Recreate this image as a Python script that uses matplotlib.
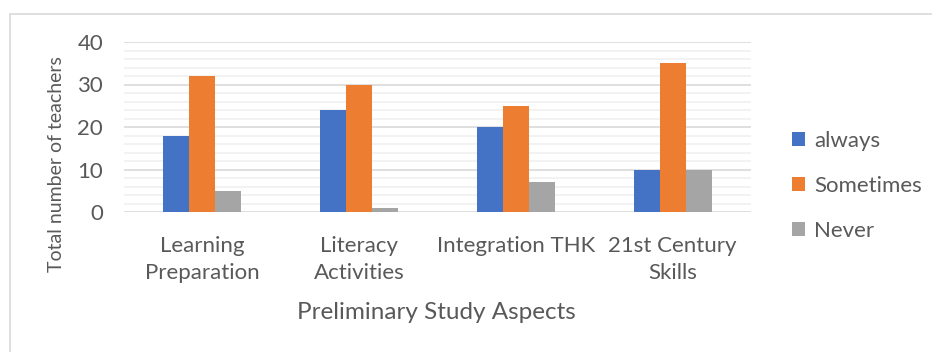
import numpy as np
from matplotlib import pyplot as plt
from matplotlib.patches import Rectangle

# chart data
categories = ['Learning\nPreparation', 'Literacy\nActivities', 'Integration THK', '21st Century\nSkills']
always = [18, 24, 20, 10]
sometimes = [32, 30, 25, 35]
never = [5, 1, 7, 10]
series_names = ['always', 'Sometimes', 'Never']
colors = ['#4472C4', '#ED7D31', '#A5A5A5']

plt.rcParams['font.family'] = ['Lato', 'DejaVu Sans']
txt = '#595959'

fig = plt.figure(figsize=(9.32, 3.52), dpi=100)
# outer chart frame (cropped on right/bottom like the reference)
fig.patches.append(Rectangle((10/932, -0.1), 2, 1.1 - 14/352, transform=fig.transFigure,
                             fill=False, edgecolor='#d9d9d9', linewidth=1.2))

ax = fig.add_axes([124/932, 1 - 212/352, 627/932, 170/352])

x = np.arange(len(categories))
w = 0.166
for i, vals in enumerate([always, sometimes, never]):
    ax.bar(x + (i - 1) * w, vals, w, color=colors[i], label=series_names[i], zorder=3)

ax.set_xlim(-0.5, len(categories) - 0.5)
ax.set_ylim(0, 40)
ax.set_yticks([0, 10, 20, 30, 40])
ax.set_yticks(np.arange(0, 41, 2), minor=True)
ax.grid(axis='y', which='minor', color='#f0f0f0', linewidth=1.2, zorder=0)
ax.grid(axis='y', which='major', color='#d9d9d9', linewidth=1.2, zorder=1)
ax.tick_params(axis='y', which='both', length=0, labelsize=16, labelcolor=txt, pad=15)
ax.tick_params(axis='x', length=0, labelsize=16, labelcolor=txt, pad=17)
ax.set_xticks(x)
ax.set_xticklabels(categories, linespacing=1.45)
for s in ax.spines.values():
    s.set_visible(False)

ax.set_ylabel('Total number of teachers', fontsize=14, color=txt, va='center')
ax.yaxis.set_label_coords(-0.107, 0.28)
ax.set_xlabel('Preliminary Study Aspects', fontsize=17.5, color=txt, va='center')
ax.xaxis.set_label_coords(0.499, -0.594)

ax.legend(loc='center left', bbox_to_anchor=(772/932, 1 - 186/352), bbox_transform=fig.transFigure,
          frameon=False, fontsize=16, labelcolor=txt, handlelength=0.6, handleheight=0.6,
          handletextpad=0.4, labelspacing=1.13)

plt.savefig('out.png', dpi=100)
